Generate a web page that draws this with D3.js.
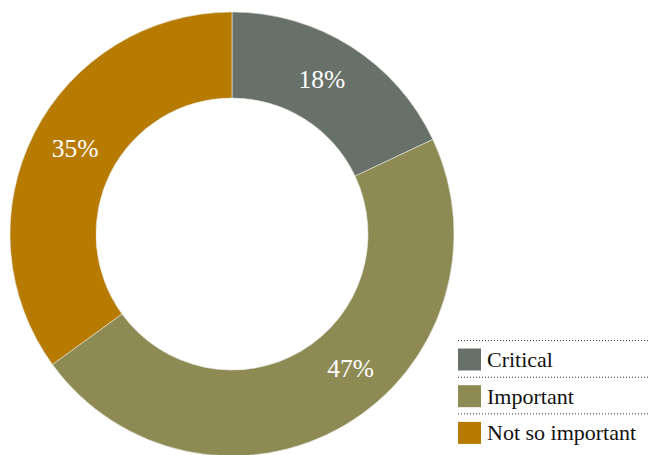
<!DOCTYPE html>
<html>
<head>
<meta charset="utf-8">
<script src="https://cdn.jsdelivr.net/npm/d3@7"></script>
<style>
  html, body { margin: 0; padding: 0; background: #fff; }
  svg { display: block; }
</style>
</head>
<body>
<svg id="chart" width="648" height="455"></svg>
<script>
// Share of responses by priority
const categories = ["Critical", "Important", "Not so important"];
const shares = [18, 47, 35];
const colors = ["#67716a", "#8e8a54", "#b87b01"];

const W = 648, H = 455;
const cx = 232, cy = 234;
const outerR = 222, innerR = 136;

const svg = d3.select("#chart");
const data = categories.map((c, i) => ({ name: c, value: shares[i], color: colors[i] }));

const pie = d3.pie().sort(null).value(d => d.value);
const arc = d3.arc().innerRadius(innerR).outerRadius(outerR);
const arcs = pie(data);

const g = svg.append("g").attr("transform", `translate(${cx},${cy})`);

g.selectAll("path.slice")
  .data(arcs)
  .enter().append("path")
  .attr("class", "slice")
  .attr("d", arc)
  .attr("fill", d => d.data.color)
  .attr("stroke", "#e8e8e0")
  .attr("stroke-width", 0.6);

// Label placement: mid-ring radius, with the large slice's label pulled toward its start
const labelR = (innerR + outerR) / 2;
const labelShift = [-0.04, -0.19, 0.03];
g.selectAll("text.pct")
  .data(arcs)
  .enter().append("text")
  .attr("class", "pct")
  .attr("transform", (d, i) => {
    const a = (d.startAngle + d.endAngle) / 2 + labelShift[i];
    return `translate(${Math.sin(a) * labelR},${-Math.cos(a) * labelR})`;
  })
  .attr("text-anchor", "middle")
  .attr("dy", "0.35em")
  .attr("fill", "#ffffff")
  .attr("font-family", "'Liberation Serif', serif")
  .attr("font-size", 25.5)
  .text(d => d.data.value + "%");

// Legend with dotted rules above each entry
const legendX = 458, legendTop = 340, rowH = 36.7;
const legend = svg.append("g").attr("transform", `translate(${legendX},${legendTop})`);
const rows = legend.selectAll("g.row")
  .data(data)
  .enter().append("g")
  .attr("class", "row")
  .attr("transform", (d, i) => `translate(0,${i * rowH})`);

rows.append("line")
  .attr("x1", 0).attr("x2", W - legendX)
  .attr("y1", 0.5).attr("y2", 0.5)
  .attr("stroke", "#333")
  .attr("stroke-width", 1)
  .attr("stroke-dasharray", "1,2");

rows.append("rect")
  .attr("x", 0).attr("y", 8.5)
  .attr("width", 23).attr("height", 22)
  .attr("fill", d => d.color);

rows.append("text")
  .attr("x", 29).attr("y", 27)
  .attr("fill", "#111")
  .attr("font-family", "'Liberation Serif', serif")
  .attr("font-size", 22)
  .text(d => d.name);
</script>
</body>
</html>
